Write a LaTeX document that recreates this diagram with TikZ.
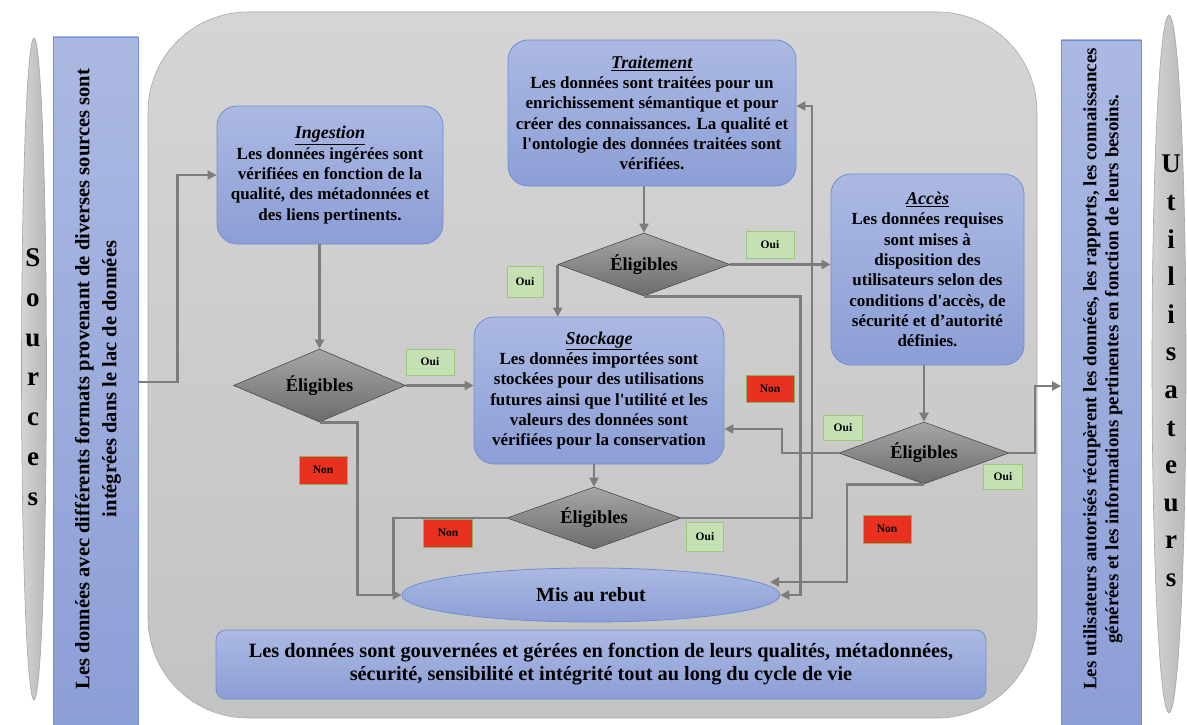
\documentclass[tikz,border=0pt]{standalone}
\usepackage{fontspec}
\setmainfont{Liberation Serif}
% a family without the TeX quote mapping, so that straight apostrophes stay straight
\newfontfamily\bodyfont{Liberation Serif}
\usetikzlibrary{shapes.geometric,arrows.meta,calc}

\definecolor{laketop}{HTML}{D5D5D5}
\definecolor{lakebot}{HTML}{C3C3C3}
\definecolor{lakeedge}{HTML}{A8A8A8}
\definecolor{boxtop}{HTML}{ABB9E2}
\definecolor{boxbot}{HTML}{8C9ED6}
\definecolor{boxedge}{HTML}{6F8FD2}
\definecolor{diatop}{HTML}{A6A6A6}
\definecolor{diabot}{HTML}{6C6C6C}
\definecolor{diaedge}{HTML}{4A4A4A}
\definecolor{linegray}{HTML}{7C7C7C}
\definecolor{ouifill}{HTML}{C5E0B3}
\definecolor{ouiedge}{HTML}{9CC97F}
\definecolor{nonfill}{HTML}{E8321F}
\definecolor{nonedge}{HTML}{8FB060}
\definecolor{sidefill}{HTML}{C8C8C8}
\definecolor{sideedge}{HTML}{A5A5A5}

\begin{document}
\begin{tikzpicture}[x=1pt,y=-1pt,
  stage/.style={draw=boxedge, line width=0.8pt, rounded corners=20pt,
    top color=boxtop, bottom color=boxbot, align=center, inner sep=0pt,
    font=\bodyfont\bfseries\fontsize{17}{20.3}\selectfont},
  title/.style={},
  strip/.style={draw=boxedge, line width=0.8pt, top color=boxtop, bottom color=boxbot, inner sep=0pt},
  decide/.style={diamond, aspect=2.7, draw=diaedge, line width=0.6pt,
    top color=diatop, bottom color=diabot, inner sep=0pt,
    font=\bodyfont\bfseries\fontsize{18.4}{22}\selectfont},
  flow/.style={draw=linegray, line width=2.8pt, -{Triangle[length=9pt,width=9pt]}},
  link/.style={draw=linegray, line width=2.8pt},
  oui/.style={fill=ouifill, draw=ouiedge, line width=0.8pt, inner sep=0pt,
    font=\bodyfont\bfseries\fontsize{11.5}{13}\selectfont},
  non/.style={fill=nonfill, draw=nonedge, line width=0.8pt, inner sep=0pt,
    font=\bodyfont\bfseries\fontsize{11.5}{13}\selectfont},
  side/.style={ellipse, draw=sideedge, line width=0.6pt, left color=sidefill!80!white, right color=sidefill!92!black, inner sep=0pt},
  letters/.style={align=center, font=\bodyfont\bfseries\fontsize{27}{39.8}\selectfont}
]
\useasboundingbox[fill=white] (0,0) rectangle (1187,725);

% the data lake
\node[draw=lakeedge, line width=0.6pt, top color=laketop, bottom color=lakebot,
  rounded corners=100pt, minimum width=889pt, minimum height=706pt, inner sep=0pt]
  (lake) at (592.5,365) {};

% sources and users
\node[side, minimum width=25pt, minimum height=662pt] (srcell) at (34,369) {};
\node[letters] (srctxt) at (33,377) {S\\o\\u\\r\\c\\e\\s};
\node[side, minimum width=34pt, minimum height=698pt] (usrell) at (1169,364) {};
\node[letters, font=\bodyfont\bfseries\fontsize{27}{37.6}\selectfont] (usrtxt) at (1171,371) {U\\t\\i\\l\\i\\s\\a\\t\\e\\u\\r\\s};

\node[strip, minimum width=85pt, minimum height=690pt] (lstrip) at (95.5,382) {};
\node[rotate=90, align=center, font=\bodyfont\bfseries\fontsize{20.5}{27}\selectfont] (ltext) at (98,379)
  {Les données avec différents formats provenant de diverses sources sont\\intégrées dans le lac de données};
\node[strip, minimum width=80pt, minimum height=690pt] (rstrip) at (1101.5,385) {};
\node[rotate=90, align=center, font=\bodyfont\bfseries\fontsize{18.9}{22}\selectfont] (rtext) at (1103,369)
  {Les utilisateurs autorisés récupèrent les données, les rapports, les connaissances\\générées et les informations pertinentes en fonction de leurs besoins.};

% stages
\node[stage, minimum width=226pt, minimum height=138pt] (ing) at (330,175)
  {{\fontsize{18}{20.3}\selectfont\underline{\textit{Ingestion}}}\\Les données ingérées sont\\vérifiées en fonction de la\\qualité, des métadonnées et\\des liens pertinents.};
\node[stage, minimum width=288pt, minimum height=146pt] (trait) at (652,113)
  {{\fontsize{18}{20.3}\selectfont\underline{\textit{Traitement}}}\\Les données sont traitées pour un\\enrichissement sémantique et pour\\créer des connaissances. La qualité et\\l'ontologie des données traitées sont\\vérifiées.};
\node[stage, minimum width=193pt, minimum height=191pt] (acces) at (927.5,269.5)
  {{\fontsize{18}{20.3}\selectfont\underline{\textit{Accès}}}\\Les données requises\\sont mises à\\disposition des\\utilisateurs selon des\\conditions d'accès, de\\sécurité et d’autorité\\définies.};
\node[stage, minimum width=250pt, minimum height=147pt] (stock) at (599,390.5)
  {{\fontsize{18}{20.3}\selectfont\underline{\textit{Stockage}}}\\Les données importées sont\\stockées pour des utilisations\\futures ainsi que l'utilité et les\\valeurs des données sont\\vérifiées pour la conservation};

% decisions
\node[decide, minimum width=172pt, minimum height=73pt] (d1) at (319.5,385.5) {Éligibles};
\node[decide, minimum width=172pt, minimum height=63pt] (d2) at (644,264.5) {Éligibles};
\node[decide, minimum width=174pt, minimum height=62pt] (d3) at (594,518) {Éligibles};
\node[decide, minimum width=170pt, minimum height=62pt] (d4) at (924,453) {Éligibles};

% discard and governance
\node[ellipse, draw=boxedge, line width=0.8pt, top color=boxtop, bottom color=boxbot,
  minimum width=378pt, minimum height=54pt, inner sep=0pt,
  font=\bodyfont\bfseries\fontsize{20}{22}\selectfont] (rebut) at (591,595) {Mis au rebut};
\node[stage, rounded corners=10pt, minimum width=770pt, minimum height=69pt,
  font=\bodyfont\bfseries\fontsize{20.3}{23}\selectfont] (gouv) at (601,664.5)
  {Les données sont gouvernées et gérées en fonction de leurs qualités, métadonnées,\\sécurité, sensibilité et intégrité tout au long du cycle de vie};

% waypoints
\coordinate (t7) at (812,106);
\coordinate (c13) at (782,429);
\coordinate (c14) at (847,582);
\coordinate (e14) at (770,582);
\coordinate (c15) at (1035,386);

% connectors
\draw[flow] (lstrip.east) -- ++(39,0) |- (ing.west);
\draw[flow] (d1.north |- ing.south) -- (d1.north);
\draw[flow] (d1.east) -- (stock.west |- d1.east);
\draw[flow] (d1.south) -- ++(38,0) |- (rebut.west);
\draw[link] (d3.west) -| ($(rebut.west)+(-8,0)$);
\draw[flow] (d3.north |- stock.south) -- (d3.north);
\draw[flow] (d3.east) -| (t7) -- (trait.east |- t7);
\draw[flow] (d2.north |- trait.south) -- (d2.north);
\draw[flow] (d2.east) -- (acces.west |- d2.east);
\draw[flow] (d2.west) -- (d2.west |- stock.north);
\draw[flow] (d2.south) -| ($(rebut.east)+(20,0)$) -- (rebut.east);
\draw[flow] (d4.north |- acces.south) -- (d4.north);
\draw[flow] (d4.west) -| (c13) -- (stock.east |- c13);
\draw[flow] (d4.south) -| (c14) -- (e14);
\draw[flow] (d4.east) -| (c15) -- (rstrip.west |- c15);

% answer tags
\node[oui, minimum width=48pt, minimum height=26pt] (o1) at (430,362) {Oui};
\node[non, minimum width=48pt, minimum height=28pt] (n1) at (323,470) {Non};
\node[oui, minimum width=48pt, minimum height=27pt] (o2r) at (770,245) {Oui};
\node[oui, minimum width=36pt, minimum height=31pt] (o2l) at (525,282) {Oui};
\node[non, minimum width=48pt, minimum height=27pt] (n2) at (770,389) {Non};
\node[oui, minimum width=37pt, minimum height=29pt] (o3) at (705,537) {Oui};
\node[non, minimum width=49pt, minimum height=28pt] (n3) at (448,533) {Non};
\node[oui, minimum width=39pt, minimum height=25pt] (o4l) at (843,428) {Oui};
\node[oui, minimum width=39pt, minimum height=25pt] (o4r) at (1003,477) {Oui};
\node[non, minimum width=48pt, minimum height=28pt] (n4) at (887,529) {Non};
\end{tikzpicture}
\end{document}
